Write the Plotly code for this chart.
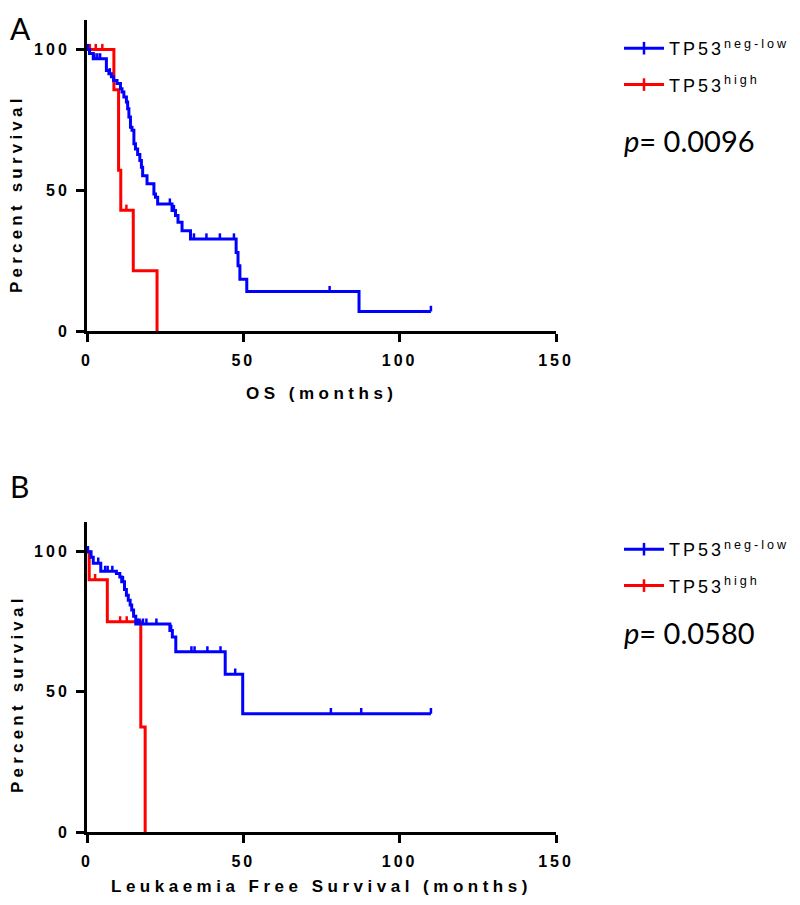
import numpy as np
import plotly.graph_objects as go

# ---------------- data ----------------
# Panel A: overall survival (months) / percent survival
os_neg_t = [0, 0.8, 2.0, 6.2, 7.0, 7.8, 8.5, 9.6, 10.7, 11.2, 11.8, 12.6, 13.0, 13.4, 13.9, 14.4,
            15.0, 15.5, 16.2, 16.9, 17.4, 17.8, 19.2, 21.4, 21.9, 22.6, 27.2, 28.3, 29.1, 30.4,
            33.1, 47.7, 48.3, 48.9, 51.1, 87.0, 110.0]
os_neg_s = [100, 98.6, 96.7, 92.6, 91.4, 90.3, 89.0, 87.9, 86.1, 84.9, 83.1, 81.4, 79.0, 76.0, 72.4, 71.3,
            66.5, 64.7, 62.7, 60.6, 58.2, 55.2, 52.3, 48.7, 47.5, 45.1, 42.8, 41.0, 38.6, 35.6,
            32.7, 27.9, 23.2, 18.4, 14.0, 6.95, 6.95]
os_neg_cens = [0.3, 2.4, 3.3, 4.2, 7.3, 26.5, 27.8, 34.2, 38.2, 42.5, 47.0, 77.6, 110.0]

os_high_t = [0, 8.6, 10.1, 10.8, 14.8, 22.4]
os_high_s = [100, 85.7, 57.1, 42.9, 21.4, 0]
os_high_cens = [0.9, 2.8, 4.9, 12.6]

# Panel B: leukaemia free survival
lfs_neg_t = [0, 1.3, 2.0, 4.4, 9.4, 10.5, 11.1, 12.0, 12.6, 13.2, 13.8, 14.3, 14.9, 15.6,
             26.5, 27.3, 28.4, 44.2, 49.8, 110.0]
lfs_neg_s = [100, 98.0, 95.9, 93.0, 92.2, 91.0, 89.3, 86.5, 84.5, 82.7, 81.0, 79.2, 77.0, 74.2,
             71.9, 69.6, 64.3, 56.3, 42.2, 42.2]
lfs_neg_cens = [0.3, 3.6, 5.8, 6.6, 8.1, 11.5, 16.2, 16.8, 17.9, 19.0, 22.2, 26.9, 33.4, 34.4,
                38.5, 42.7, 47.4, 78.0, 87.7, 110.0]

lfs_high_t = [0, 0.7, 6.5, 17.2, 18.6]
lfs_high_s = [100, 90.0, 75.0, 37.5, 0]
lfs_high_cens = [2.6, 10.6, 12.7]

x_ticks = [0, 50, 100, 150]
y_ticks = [0, 50, 100]
series_names = ["TP53<sup>neg-low</sup>", "TP53<sup>high</sup>"]
p_values = ["0.0096", "0.0580"]
x_titles = ["OS (months)", "Leukaemia Free Survival (months)"]
panel_labels = ["A", "B"]

BLUE = "#0000ff"
RED = "#ff0000"
ARIAL = "Liberation Sans, Arial, sans-serif"
CAL = "Lato, Open Sans, sans-serif"
TICK_UP = 2.0  # censor mark length in percent units

# page body has an 8px default margin: the figure is placed at (8, 8)
OFF = 8
W, H = 800 - OFF, 905 - 2 * OFF


def px(x):
    return (x - OFF) / W


def py(y):
    return 1 - (y - OFF) / H


def surv_at(t_arr, s_arr, times):
    t_arr = np.asarray(t_arr)
    s_arr = np.asarray(s_arr)
    idx = np.searchsorted(t_arr, np.asarray(times), side="right") - 1
    return s_arr[np.clip(idx, 0, len(s_arr) - 1)]


def spaced(txt, sp):
    return f'<span style="letter-spacing:{sp}px">{txt}</span>'


fig = go.Figure()

panels = [
    (1, [(os_high_t, os_high_s, os_high_cens, RED), (os_neg_t, os_neg_s, os_neg_cens, BLUE)]),
    (2, [(lfs_high_t, lfs_high_s, lfs_high_cens, RED), (lfs_neg_t, lfs_neg_s, lfs_neg_cens, BLUE)]),
]

for k, series in panels:
    xa = "x" if k == 1 else "x2"
    ya = "y" if k == 1 else "y2"
    for t, s, c, col in series:
        fig.add_trace(go.Scatter(x=t, y=s, mode="lines", line=dict(color=col, width=3, shape="hv"),
                                 xaxis=xa, yaxis=ya, showlegend=False, hoverinfo="skip"))
        cy = surv_at(t, s, c)
        fig.add_trace(go.Scatter(x=c, y=cy, mode="markers", marker=dict(size=1, color=col, opacity=0),
                                 error_y=dict(type="data", symmetric=False, array=[TICK_UP] * len(c),
                                              arrayminus=[0] * len(c), width=0, thickness=2.5, color=col),
                                 xaxis=xa, yaxis=ya, showlegend=False, hoverinfo="skip"))
    # legend entries
    lg = "legend" if k == 1 else "legend2"
    for name, col in zip(series_names, [BLUE, RED]):
        fig.add_trace(go.Scatter(x=[None], y=[None], mode="lines+markers", name=spaced(name, 3),
                                 line=dict(color=col, width=3),
                                 marker=dict(symbol="line-ns", size=9, line=dict(width=2.5, color=col), color=col),
                                 xaxis=xa, yaxis=ya, legend=lg, legendgroup=f"{k}{name}"))

axis_common = dict(showline=True, linewidth=3, linecolor="black", ticks="outside", ticklen=8,
                   tickwidth=3, tickcolor="black", showgrid=False, zeroline=False, automargin=False,
                   tickfont=dict(family=ARIAL, size=16, color="black", weight="bold"))

xdom = [px(87), px(556)]
legend_common = dict(xanchor="left", yanchor="top", itemwidth=40,
                     font=dict(family=ARIAL, size=18, color="black"), tracegroupgap=10,
                     bgcolor="rgba(0,0,0,0)")
fig.update_layout(
    width=W, height=H, margin=dict(l=0, r=0, t=0, b=0, autoexpand=False),
    paper_bgcolor="white", plot_bgcolor="white",
    xaxis=dict(domain=xdom, range=[0, 150], anchor="y", tickvals=x_ticks,
               ticktext=[spaced(str(v), 3) for v in x_ticks], ticklabelstandoff=5, **axis_common),
    yaxis=dict(domain=[py(331), py(20)], range=[0, 110.5], anchor="x",
               tickvals=y_ticks, ticktext=[spaced(str(v), 3) for v in y_ticks], ticklabelstandoff=3,
               **axis_common),
    xaxis2=dict(domain=xdom, range=[0, 150], anchor="y2", tickvals=x_ticks,
                ticktext=[spaced(str(v), 3) for v in x_ticks], ticklabelstandoff=5, **axis_common),
    yaxis2=dict(domain=[py(832), py(521.7)], range=[0, 110.7], anchor="x2",
                tickvals=y_ticks, ticktext=[spaced(str(v), 3) for v in y_ticks], ticklabelstandoff=3,
                **axis_common),
    legend=dict(x=px(619), y=py(30), **legend_common),
    legend2=dict(x=px(619), y=py(531), **legend_common),
    showlegend=True,
)

ann = []
# panel labels
for lab, ypx in zip(panel_labels, [OFF, 466]):
    ann.append(dict(text=lab, x=0, y=py(ypx), xref="paper", yref="paper", xanchor="left",
                    yanchor="top", showarrow=False, font=dict(family=CAL, size=30, color="black")))
# p-values
for pv, ypx in zip(p_values, [140, 632]):
    ann.append(dict(text=f"<i>p</i>= {pv}", x=px(622), y=py(ypx), xref="paper", yref="paper",
                    xanchor="left", yanchor="middle", showarrow=False,
                    font=dict(family=CAL, size=29, color="black")))
# axis titles
for tt, ypx in zip(x_titles, [393, 886]):
    ann.append(dict(text=spaced(tt, 4.5), x=(xdom[0] + xdom[1]) / 2, y=py(ypx), xref="paper",
                    yref="paper", xanchor="center", yanchor="middle", showarrow=False,
                    font=dict(family=ARIAL, size=17, color="black", weight="bold")))
for ypx in [194, 694]:
    ann.append(dict(text=spaced("Percent survival", 4.2), x=px(17), y=py(ypx), xref="paper",
                    yref="paper", xanchor="center", yanchor="middle", textangle=-90, showarrow=False,
                    font=dict(family=ARIAL, size=17, color="black", weight="bold")))
fig.update_layout(annotations=ann)

fig.write_html("out.html")
